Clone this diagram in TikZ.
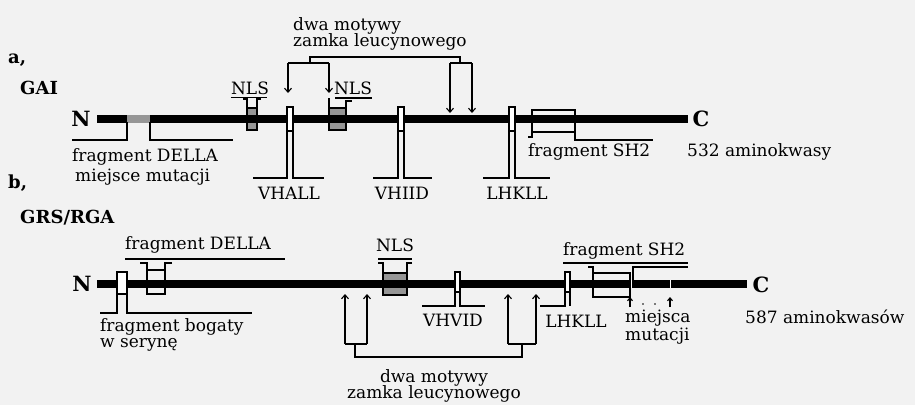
\documentclass[tikz,border=0pt]{standalone}
\usepackage{fontspec}
\setmainfont{DejaVu Serif}
\usetikzlibrary{arrows.meta}
\definecolor{paper}{RGB}{242,242,242}
\definecolor{stip}{RGB}{150,150,150}
\tikzset{
  lbl/.style={inner sep=0pt, font=\fontsize{17}{17}\selectfont},
  hd/.style={inner sep=0pt, font=\fontsize{18}{20}\selectfont\bfseries},
  term/.style={inner sep=0pt, font=\fontsize{21}{22}\selectfont\bfseries},
  ln/.style={line width=1.1pt},
  arr/.style={ln, -{Straight Barb[length=4pt,width=7pt]}},
  chain/.style={line width=7.5pt},
  nlsbox/.style={fill=stip, draw=black, line width=1.4pt},
  sitebox/.style={fill=white, draw=black, line width=1.1pt},
  framebox/.style={draw=black, line width=1.1pt},
}
\begin{document}
\begin{tikzpicture}[x=1pt, y=-1pt]
\useasboundingbox (0,0) rectangle (915,405);
\fill[paper] (0,0) rectangle (915,405);

% ---------------- a, GAI ----------------
\node[hd, anchor=west] (la) at (8,60) {a,};
\node[hd, anchor=west] (gai) at (20,88) {GAI};
\node[term] (na) at (81,119) {N};
\node[term] (ca) at (701,119) {C};

% NLS boxes behind the chain
\draw[nlsbox] (247,108) rectangle (257,130);
\draw[nlsbox] (329,108) rectangle (346,130);

% protein chain
\draw[chain] (97,119) -- (688,119);
\draw[chain, stip] (127,119) -- (150,119);

% DELLA fragment
\draw[ln] (127,122) |- (72,140);
\draw[ln] (150,122) |- (233,140);
\node[lbl, anchor=west] (della) at (72,157) {fragment DELLA};
\node[lbl, anchor=west] (mut) at (75,177) {miejsce mutacji};

% NLS labels
\node[lbl] (nls1) at (250,88) {NLS};
\draw[ln] (nls1.south west) ++(0,3) -- ++(36,0);
\draw[ln] (243,99) -| (247,108);
\draw[ln] (261,99) -| (257,108);
\node[lbl] (nls2) at (353,88) {NLS};
\draw[ln] (335,98) -- (372,98);
\draw[ln] (329,108) -- (329,98);
\draw[ln] (346,108) |- (352,101);

% conserved motifs
\draw[sitebox] (287,107) rectangle (293,131);
\draw[ln] (287,131) |- (253,178);
\draw[ln] (293,131) |- (324,178);
\node[lbl] (vhall) at (289,193) {VHALL};

\draw[sitebox] (398,107) rectangle (404,131);
\draw[ln] (398,131) |- (373,178);
\draw[ln] (404,131) |- (432,178);
\node[lbl] (vhiid) at (402,193) {VHIID};

\draw[sitebox] (509,107) rectangle (515,131);
\draw[ln] (509,131) |- (483,178);
\draw[ln] (515,131) |- (550,178);
\node[lbl] (lhkll) at (517,193) {LHKLL};

% leucine zipper motifs
\node[lbl, anchor=west, align=left] (zip) at (293,34) {dwa motywy\\[-0.5pt]zamka leucynowego};
\draw[ln] (310,63) -- (310,57) -- (460,57) -- (460,63);
\draw[ln] (288,63) -- (329,63);
\draw[ln] (450,63) -- (472,63);
\draw[arr] (288,63) -- (288,93);
\draw[arr] (329,63) -- (329,93);
\draw[arr] (450,63) -- (450,113);
\draw[arr] (472,63) -- (472,113);

% SH2 fragment
\draw[framebox] (532,110) rectangle (575,132);
\draw[ln] (532,126) -- (532,137) -- (528,137);
\draw[ln] (575,132) |- (653,140);
\node[lbl, anchor=west] (sh2a) at (528,152) {fragment SH2};
\node[lbl, anchor=west] (lena) at (687,152) {532 aminokwasy};

% ---------------- b, GRS/RGA ----------------
\node[hd, anchor=west] (lb) at (8,183) {b,};
\node[hd, anchor=west] (grs) at (20,218) {GRS/RGA};
\node[term] (nb) at (82,284) {N};
\node[term] (cb) at (761,285) {C};

\draw[nlsbox] (383,273) rectangle (407,295);
\draw[chain] (97,284) -- (747,284);

% serine-rich fragment
\draw[sitebox] (117,272) rectangle (127,294);
\draw[ln] (117,294) |- (100,313);
\draw[ln] (127,294) |- (252,313);
\node[lbl, anchor=west, align=left] (ser) at (100,335) {fragment bogaty\\[-1pt]w serynę};

% DELLA fragment
\draw[framebox] (147,270) rectangle (165,294);
\draw[ln] (140,263) -| (147,270);
\draw[ln] (172,263) -| (165,270);
\node[lbl, anchor=west] (dellab) at (125,245) {fragment DELLA};
\draw[ln] (125,259) -- (285,259);

% NLS
\node[lbl] (nlsb) at (395,245) {NLS};
\draw[ln] (378,259) -- (412,259);
\draw[ln] (378,263) -| (383,273);
\draw[ln] (412,263) -| (407,273);

% conserved motifs
\draw[sitebox] (455,272) rectangle (460,292);
\draw[ln] (455,292) |- (422,306);
\draw[ln] (460,292) |- (485,306);
\node[lbl] (vhvid) at (453,320) {VHVID};

\draw[sitebox] (565,272) rectangle (570,292);
\draw[ln] (565,292) |- (540,306);
\draw[ln] (570,292) -- (570,306);
\node[lbl] (lhkllb) at (576,321) {LHKLL};

% leucine zipper motifs
\draw[arr] (345,344) -- (345,294);
\draw[arr] (367,344) -- (367,294);
\draw[arr] (508,344) -- (508,294);
\draw[arr] (536,344) -- (536,294);
\draw[ln] (345,344) -- (367,344);
\draw[ln] (508,344) -- (536,344);
\draw[ln] (355,344) -- (355,357) -- (522,357) -- (522,344);
\node[lbl, align=center] (zipb) at (434,386) {dwa motywy\\[-1pt]zamka leucynowego};

% SH2 fragment with mutation sites
\draw[framebox] (593,273) rectangle (630,297);
\draw[ln] (588,267) -| (593,273);
\draw[ln] (633,280) |- (688,267);
\node[lbl, anchor=west] (sh2b) at (563,251) {fragment SH2};
\draw[ln] (563,263) -- (688,263);
\draw[white, line width=1pt] (631.5,280) -- (631.5,288);
\draw[white, line width=1pt] (670,280) -- (670,288);
\draw[ln, -{Straight Barb[length=3pt,width=5pt]}] (630,307) -- (630,297);
\draw[ln, -{Straight Barb[length=3pt,width=5pt]}] (670,307) -- (670,297);
\fill (643,304) circle (0.8);
\fill (655,304) circle (0.8);
\node[lbl, anchor=west, align=left] (mutb) at (625,327) {miejsca\\[1pt]mutacji};
\node[lbl, anchor=west] (lenb) at (745,317) {587 aminokwasów};
\end{tikzpicture}
\end{document}
